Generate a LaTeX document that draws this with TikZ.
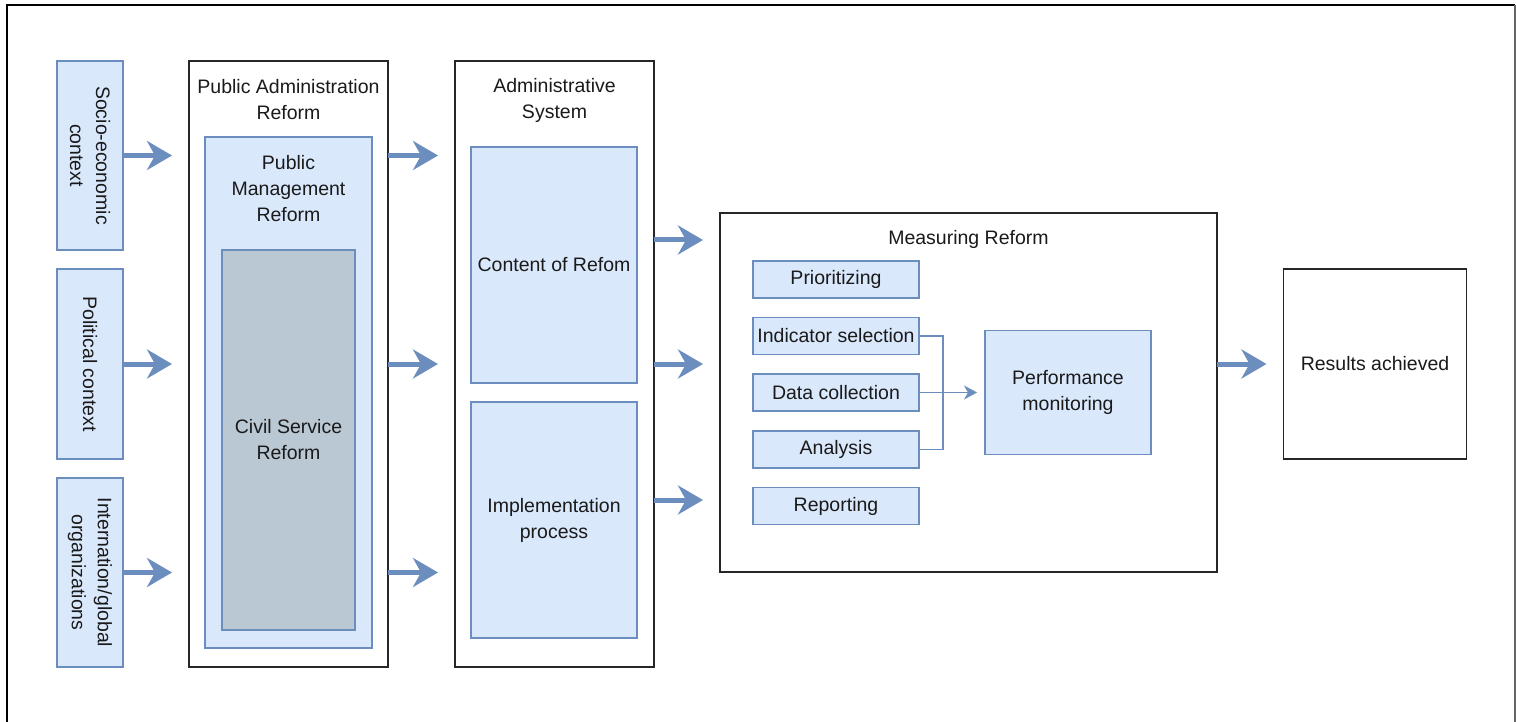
\documentclass[tikz,border=0pt]{standalone}
\usepackage{fontspec}
\setmainfont{Liberation Sans}
\usetikzlibrary{arrows.meta}
\definecolor{fillblue}{HTML}{DAE8FC}
\definecolor{strokeblue}{HTML}{6C8EBF}
\definecolor{fillgray}{HTML}{BAC8D3}
\definecolor{txt}{HTML}{1A1A1A}
\definecolor{framegray}{HTML}{666666}
\begin{document}
\begin{tikzpicture}[x=1pt,y=-1pt,
  every node/.style={font=\fontsize{19.5}{26}\selectfont, text=txt, inner sep=0pt, outer sep=0pt},
  bluebox/.style={draw=strokeblue, fill=fillblue, line width=1.5pt},
  graybox/.style={draw=strokeblue, fill=fillgray, line width=1.5pt},
  blackbox/.style={draw=black!85, fill=white, line width=1.5pt},
  blockarrow/.style={draw=strokeblue, line width=5pt, -{Stealth[length=25pt,width=29pt,inset=8pt]}, shorten >=17pt},
  thinconn/.style={draw=strokeblue, line width=1.4pt},
  thinarrow/.style={draw=strokeblue, line width=1.4pt, -{Stealth[length=13pt,width=14pt,inset=4pt]}, shorten >=8pt}
]
\useasboundingbox (0,0) rectangle (1516,722);
% outer frame (three sides)
\draw[black, line width=2pt] (7,722) -- (7,5) -- (1515,5);
\draw[framegray, line width=2pt] (1515,5) -- (1515,722);

% left context boxes
\node[bluebox, minimum width=66pt, minimum height=189pt] (soc) at (90,155.5) {};
\node[rotate=-90, align=center] (soct) at (soc.center) {Socio-economic\\context};
\node[bluebox, minimum width=66pt, minimum height=190pt] (pol) at (90,364) {};
\node[rotate=-90, align=center] (polt) at (pol.center) {Political context};
\node[bluebox, minimum width=66pt, minimum height=189pt] (intl) at (90,572.5) {};
\node[rotate=-90, align=center] (intlt) at (intl.center) {Internation/global\\organizations};

% Public Administration Reform
\node[blackbox, minimum width=199pt, minimum height=606pt] (par) at (288.5,364) {};
\node[align=center] (part) at (288.5,100) {Public Administration\\Reform};
\node[bluebox, minimum width=167pt, minimum height=511pt] (pmr) at (288.5,392.5) {};
\node[align=center] (pmrt) at (288.5,189) {Public\\Management\\Reform};
\node[graybox, minimum width=133pt, minimum height=380pt, align=center] (csr) at (288.5,440) {Civil Service\\Reform};

% Administrative System
\node[blackbox, minimum width=199pt, minimum height=606pt] (as) at (554.5,364) {};
\node[align=center] (ast) at (554.5,100) {Administrative\\System};
\node[bluebox, minimum width=166pt, minimum height=236pt, align=center] (cor) at (554,265) {Content of Refom};
\node[bluebox, minimum width=166pt, minimum height=236pt, align=center] (imp) at (554,520) {Implementation\\process};

% Measuring Reform
\node[blackbox, minimum width=497pt, minimum height=359pt] (mr) at (968.5,392.5) {};
\node (mrt) at (968.5,239) {Measuring Reform};
\node[bluebox, minimum width=166pt, minimum height=37pt] (pri) at (836,279.5) {Prioritizing};
\node[bluebox, minimum width=166pt, minimum height=37pt] (ind) at (836,336) {Indicator selection};
\node[bluebox, minimum width=166pt, minimum height=37pt] (dat) at (836,392.5) {Data collection};
\node[bluebox, minimum width=166pt, minimum height=37pt] (ana) at (836,449.5) {Analysis};
\node[bluebox, minimum width=166pt, minimum height=37pt] (rep) at (836,506) {Reporting};
\node[bluebox, minimum width=166pt, minimum height=124pt, align=center] (pm) at (1068,392.5) {Performance\\monitoring};
\coordinate (jn) at (943,392.5);

% Results
\node[blackbox, minimum width=183pt, minimum height=190pt] (res) at (1375,364) {Results achieved};

% block arrows
\draw[blockarrow] (soc.east) -- (soc.east -| par.west);
\draw[blockarrow] (pol.east) -- (pol.east -| par.west);
\draw[blockarrow] (intl.east) -- (intl.east -| par.west);
\draw[blockarrow] (par.east |- soc.east) -- (as.west |- soc.east);
\draw[blockarrow] (par.east |- pol.east) -- (as.west |- pol.east);
\draw[blockarrow] (par.east |- intl.east) -- (as.west |- intl.east);
\draw[blockarrow] (as.east |- 0,240) -- (mr.west |- 0,240);
\draw[blockarrow] (as.east |- 0,364) -- (mr.west |- 0,364);
\draw[blockarrow] (as.east |- 0,500) -- (mr.west |- 0,500);
\draw[blockarrow] (mr.east |- res.west) -- (res.west);

% measurement connectors
\draw[thinconn] (ind.east) -| (jn);
\draw[thinconn] (ana.east) -| (jn);
\draw[thinarrow] (dat.east) -- (pm.west);
\end{tikzpicture}
\end{document}
